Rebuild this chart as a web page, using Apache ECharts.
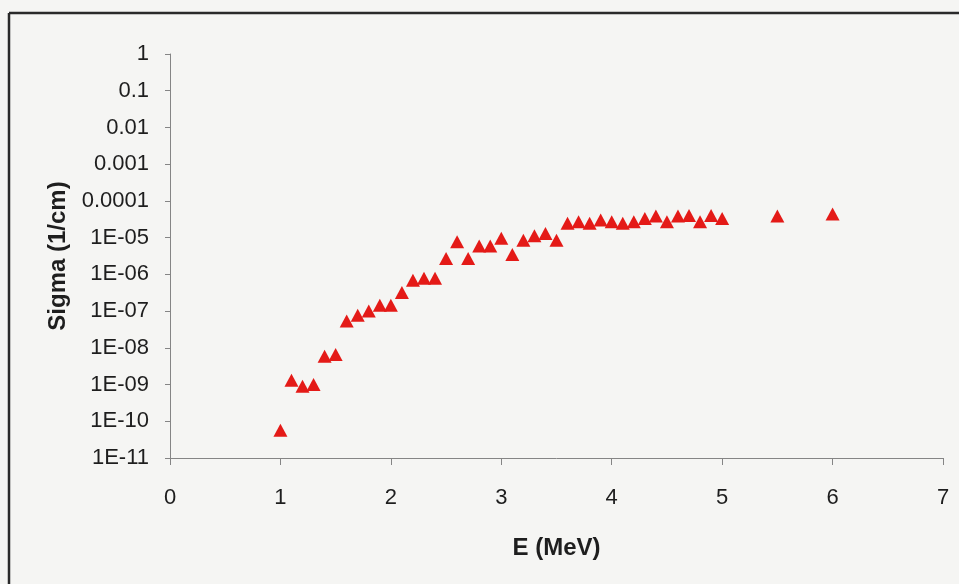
<!DOCTYPE html>
<html>
<head>
<meta charset="utf-8">
<script src="https://cdn.jsdelivr.net/npm/echarts@6/dist/echarts.min.js"></script>
<style>
  html, body { margin: 0; padding: 0; background: #f5f5f3; }
  #chart { width: 959px; height: 584px; }
</style>
</head>
<body>
<div id="chart"></div>
<script>
// Measured cross-section versus energy
const energy = [1.0, 1.1, 1.2, 1.3, 1.4, 1.5, 1.6, 1.7, 1.8, 1.9,
                2.0, 2.1, 2.2, 2.3, 2.4, 2.5, 2.6, 2.7, 2.8, 2.9,
                3.0, 3.1, 3.2, 3.3, 3.4, 3.5, 3.6, 3.7, 3.8, 3.9,
                4.0, 4.1, 4.2, 4.3, 4.4, 4.5, 4.6, 4.7, 4.8, 4.9,
                5.0, 5.5, 6.0];
const sigma = [5.7e-11, 1.3e-9, 9e-10, 1.0e-9, 5.9e-9, 6.6e-9, 5.4e-8, 7.7e-8, 1.0e-7, 1.45e-7,
               1.45e-7, 3.2e-7, 6.9e-7, 7.8e-7, 7.8e-7, 2.7e-6, 7.7e-6, 2.7e-6, 5.9e-6, 5.9e-6,
               9.6e-6, 3.5e-6, 8.5e-6, 1.12e-5, 1.3e-5, 8.5e-6, 2.45e-5, 2.7e-5, 2.45e-5, 3.0e-5,
               2.7e-5, 2.45e-5, 2.7e-5, 3.3e-5, 3.9e-5, 2.7e-5, 3.9e-5, 4.0e-5, 2.7e-5, 4.0e-5,
               3.3e-5, 3.9e-5, 4.4e-5];
// Labels for decades 10^0 ... 10^-11
const yTickLabels = ['1', '0.1', '0.01', '0.001', '0.0001', '1E-05', '1E-06',
                     '1E-07', '1E-08', '1E-09', '1E-10', '1E-11'];
const xTickLabels = ['0', '1', '2', '3', '4', '5', '6', '7'];

const points = energy.map((e, i) => [e, sigma[i]]);
const font = '"Liberation Sans", Arial, sans-serif';
const axisGrey = '#858585';
const textColor = '#1e1e1e';

const chart = echarts.init(document.getElementById('chart'), null, { renderer: 'canvas' });
chart.setOption({
  backgroundColor: '#f5f5f3',
  animation: false,
  grid: { left: 170, right: 16, top: 54, bottom: 126, containLabel: false },
  xAxis: {
    type: 'value', min: 0, max: 7, interval: 1,
    name: 'E (MeV)', nameLocation: 'middle', nameGap: 78,
    nameTextStyle: { fontFamily: font, fontSize: 24, fontWeight: 'bold', color: textColor },
    axisLine: { show: true, lineStyle: { color: axisGrey, width: 1 } },
    axisTick: { show: true, inside: false, length: 7, lineStyle: { color: axisGrey } },
    axisLabel: {
      margin: 29, fontFamily: font, fontSize: 22, color: textColor,
      formatter: v => xTickLabels[Math.round(v)]
    },
    splitLine: { show: false }
  },
  yAxis: {
    type: 'log', logBase: 10, min: 1e-11, max: 1, interval: 1,
    name: 'Sigma (1/cm)', nameLocation: 'middle', nameGap: 96, nameRotate: 90,
    nameTextStyle: { fontFamily: font, fontSize: 24, fontWeight: 'bold', color: textColor },
    axisLine: { show: true, lineStyle: { color: axisGrey, width: 1 } },
    axisTick: { show: true, inside: false, length: 5, lineStyle: { color: axisGrey } },
    axisLabel: {
      margin: 21, fontFamily: font, fontSize: 22, color: textColor,
      formatter: v => yTickLabels[-Math.round(Math.log10(v))]
    },
    splitLine: { show: false }
  },
  graphic: [
    { type: 'line', shape: { x1: 9, y1: 13, x2: 959, y2: 13 },
      style: { stroke: '#2a2a2a', lineWidth: 2.5 }, silent: true },
    { type: 'line', shape: { x1: 9, y1: 13, x2: 9, y2: 584 },
      style: { stroke: '#2a2a2a', lineWidth: 2.5 }, silent: true }
  ],
  series: [{
    type: 'scatter',
    data: points,
    symbol: 'triangle',
    symbolSize: [14, 13],
    itemStyle: { color: '#e41a17', opacity: 1 }
  }]
});
</script>
</body>
</html>
